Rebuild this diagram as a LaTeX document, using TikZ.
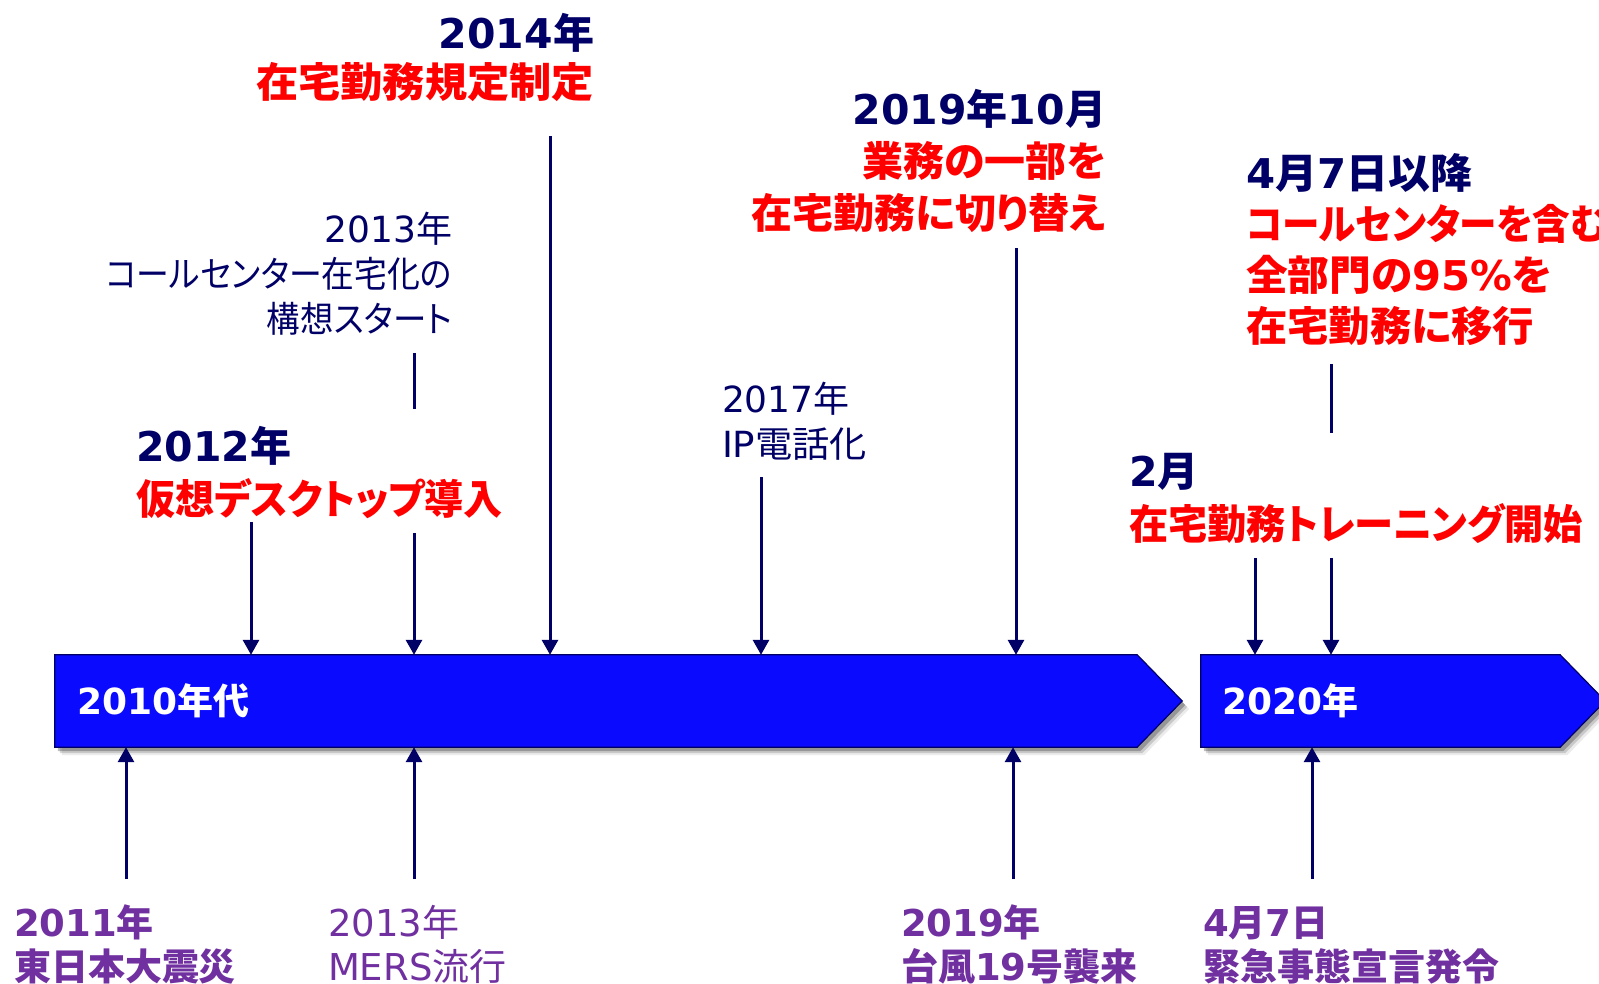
\documentclass[tikz,border=0pt]{standalone}
\usepackage{fontspec}
\usepackage{graphicx}
\setmainfont{Noto Sans CJK JP}[RawFeature=+palt]
\newfontfamily\dv{DejaVu Sans}
\usetikzlibrary{arrows.meta,shadows}
\definecolor{navy}{RGB}{0,0,102}
\definecolor{bannerblue}{RGB}{10,10,255}
\definecolor{evred}{RGB}{255,0,0}
\definecolor{evpurple}{RGB}{112,48,160}
\newcommand\ltn[1]{{\dv #1}}
\newcommand\fitw[2]{\resizebox{#1pt}{\height}{#2}}
\tikzset{
  txt/.style={inner sep=0pt, outer sep=0pt},
  bigb/.style={txt, font=\fontsize{41}{49}\selectfont\bfseries},
  regn/.style={txt, font=\fontsize{36}{44}\selectfont, text=navy},
  botb/.style={txt, font=\fontsize{37}{44}\selectfont\bfseries, text=evpurple},
  botr/.style={txt, font=\fontsize{37}{44}\selectfont, text=evpurple},
  bantext/.style={txt, font=\fontsize{36}{44}\selectfont\bfseries, text=white, anchor=base west},
  bannerbody/.style={rectangle, inner sep=0pt, minimum height=92pt},
  bannerline/.style={fill=bannerblue, draw=navy, line width=1.2pt,
     drop shadow={shadow xshift=7pt, shadow yshift=-8pt, opacity=0.08, fill=black},
     drop shadow={shadow xshift=5pt, shadow yshift=-6pt, opacity=0.15, fill=black},
     drop shadow={shadow xshift=3pt, shadow yshift=-4pt, opacity=0.25, fill=black}},
  arr/.style={draw=navy, line width=3pt, -{Triangle[width=16pt,length=15pt]}},
  seg/.style={draw=navy, line width=3pt},
}
\begin{document}
\begin{tikzpicture}[x=1pt,y=-1pt]
\useasboundingbox (0,0) rectangle (1599,983);

% banners
\node[bannerbody, minimum width=1082pt] (b1) at (596,701) {};
\node[bannerbody, minimum width=359pt] (b2) at (1380.5,701) {};
\path[bannerline] (b1.north west) -- (b1.north east) -- ([xshift=45pt]b1.east) -- (b1.south east) -- (b1.south west) -- cycle;
\path[bannerline] (b2.north west) -- (b2.north east) -- ([xshift=45pt]b2.east) -- (b2.south east) -- (b2.south west) -- cycle;
\node[bantext] (t1) at (77,714) {\ltn{2010}年代};
\node[bantext] (t2) at (1222,714) {\ltn{2020}年};

% top labels
\node[bigb, text=navy, anchor=base east] (y2014) at (594,48) {\ltn{2014}年};
\node[bigb, text=evred, anchor=base east] (e2014) at (594,97) {\fitw{338}{在宅勤務規定制定}};

\node[regn, anchor=base east] (c1) at (452,242) {\ltn{2013}年};
\node[regn, anchor=base east] (c2) at (452,287) {\fitw{346}{コールセンター在宅化の}};
\node[regn, anchor=base east] (c3) at (452,332) {\fitw{185}{構想スタート}};

\node[bigb, text=navy, anchor=base west] (y2012) at (136,461) {\ltn{2012}年};
\node[bigb, text=evred, anchor=base west] (e2012) at (136,514) {\fitw{367}{仮想デスクトップ導入}};

\node[regn, anchor=base west] (y2017) at (722,412) {\ltn{2017}年};
\node[regn, anchor=base west] (e2017) at (722,457) {\fitw{145}{\ltn{IP}電話化}};

\node[bigb, text=navy, anchor=base east] (y2019) at (1106,124) {\ltn{2019}年\ltn{10}月};
\node[bigb, text=evred, anchor=base east] (e2019a) at (1106,176) {業務の一部を};
\node[bigb, text=evred, anchor=base east] (e2019b) at (1106,228) {在宅勤務に切り替え};

\node[bigb, text=navy, anchor=base west] (y0407) at (1246,188) {\fitw{226}{\ltn{4}月\ltn{7}日以降}};
\node[bigb, text=evred, anchor=base west] (e0407a) at (1246,239) {\fitw{362}{コールセンターを含む}};
\node[bigb, text=evred, anchor=base west] (e0407b) at (1246,290) {\fitw{306}{全部門の\ltn{95\%}を}};
\node[bigb, text=evred, anchor=base west] (e0407c) at (1246,341) {\fitw{288}{在宅勤務に移行}};

\node[bigb, text=navy, anchor=base west] (yfeb) at (1129,486) {\ltn{2}月};
\node[bigb, text=evred, anchor=base west] (efeb) at (1129,539) {\fitw{454}{在宅勤務トレーニング開始}};

% bottom labels
\node[botb, anchor=base west] (y2011) at (14,936) {\ltn{2011}年};
\node[botb, anchor=base west] (e2011) at (14,980) {東日本大震災};
\node[botr, anchor=base west] (y2013m) at (328,936) {\ltn{2013}年};
\node[botr, anchor=base west] (e2013m) at (328,980) {\ltn{MERS}流行};
\node[botb, anchor=base west] (y2019t) at (901,936) {\ltn{2019}年};
\node[botb, anchor=base west] (e2019t) at (901,980) {台風\ltn{19}号襲来};
\node[botb, anchor=base west] (y0407e) at (1203,936) {\ltn{4}月\ltn{7}日};
\node[botb, anchor=base west] (e0407e) at (1203,980) {緊急事態宣言発令};

% connector start points
\coordinate (s2012) at (251,522);
\coordinate (s2013a) at (414,353);
\coordinate (s2013b) at (414,409);
\coordinate (s2013c) at (414,533);
\coordinate (s2014) at (550,136);
\coordinate (s2017) at (761,477);
\coordinate (s2019) at (1016,248);
\coordinate (sfeb) at (1255,558);
\coordinate (s0407a) at (1331,364);
\coordinate (s0407b) at (1331,433);
\coordinate (s0407c) at (1331,558);
\coordinate (u2011) at (126,879);
\coordinate (u2013) at (414,879);
\coordinate (u2019) at (1013,879);
\coordinate (u0407) at (1312,879);

% down arrows
\draw[arr] (s2012) -- (s2012 |- b1.north);
\draw[seg] (s2013a) -- (s2013b);
\draw[arr] (s2013c) -- (s2013c |- b1.north);
\draw[arr] (s2014) -- (s2014 |- b1.north);
\draw[arr] (s2017) -- (s2017 |- b1.north);
\draw[arr] (s2019) -- (s2019 |- b1.north);
\draw[arr] (sfeb) -- (sfeb |- b2.north);
\draw[seg] (s0407a) -- (s0407b);
\draw[arr] (s0407c) -- (s0407c |- b2.north);

% up arrows
\draw[arr] (u2011) -- (u2011 |- b1.south);
\draw[arr] (u2013) -- (u2013 |- b1.south);
\draw[arr] (u2019) -- (u2019 |- b1.south);
\draw[arr] (u0407) -- (u0407 |- b2.south);
\end{tikzpicture}
\end{document}
